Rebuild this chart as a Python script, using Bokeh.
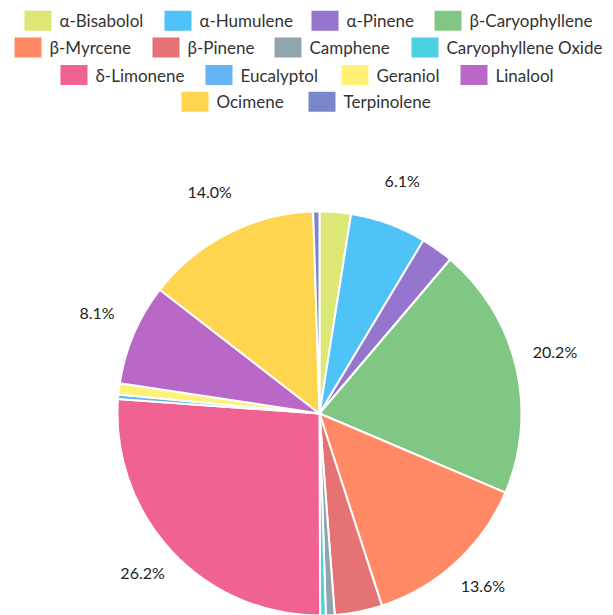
import math
from bokeh.plotting import figure
from bokeh.models import Range1d, ColumnDataSource
from bokeh.core.properties import value
from bokeh.embed import file_html
from bokeh.resources import INLINE

# ---- data ----
names = ["α-Bisabolol", "α-Humulene", "α-Pinene", "β-Caryophyllene",
         "β-Myrcene", "β-Pinene", "Camphene", "Caryophyllene Oxide",
         "δ-Limonene", "Eucalyptol", "Geraniol", "Linalool",
         "Ocimene", "Terpinolene"]
values = [2.5, 6.1, 2.6, 20.2, 13.6, 3.8, 0.7, 0.45,
          26.2, 0.35, 0.9, 8.1, 14.0, 0.5]
colors = ["#dce775", "#4fc3f7", "#9575cd", "#81c784",
          "#ff8a65", "#e57373", "#90a4ae", "#4dd0e1",
          "#f06292", "#64b5f6", "#fff176", "#ba68c8",
          "#ffd54f", "#7986cb"]

# ---- layout constants ----
W, H = 613, 615
CX, CY = 319, 615 - 413
R = 202
LABEL_R = 242
FONT = "Lato"

# legend rows: (indices, box left x)
legend_rows = [
    ([0, 1, 2, 3], [24, 164, 311, 434]),
    ([4, 5, 6, 7], [14, 152, 274, 411]),
    ([8, 9, 10, 11], [60, 205, 341, 460]),
    ([12, 13], [181, 308]),
]
row_y = [20.3, 47, 74.5, 101.3]
BOX_W, BOX_H = 27, 20

p = figure(width=W, height=H, output_backend="svg", toolbar_location=None,
           x_range=Range1d(0, W), y_range=Range1d(0, H),
           min_border=0, border_fill_color="white", background_fill_color="white")
p.axis.visible = False
p.grid.visible = False
p.outline_line_color = None

total = sum(values)
starts, ends = [], []
cum = 0.0
for v in values:
    starts.append(math.pi / 2 - 2 * math.pi * cum / total)
    cum += v
    ends.append(math.pi / 2 - 2 * math.pi * cum / total)

src = ColumnDataSource(dict(start=starts, end=ends, color=colors, name=names))
p.wedge(x=CX, y=CY, radius=R, start_angle="start", end_angle="end",
        direction="clock", fill_color="color", line_color="white",
        line_width=2, source=src)

# percentage labels for larger slices
lx, ly, lt = [], [], []
cum = 0.0
for v in values:
    mid = (cum + v / 2) / total
    cum += v
    pct = 100 * v / total
    if pct >= 5:
        a = math.pi / 2 - 2 * math.pi * mid
        lx.append(CX + LABEL_R * math.cos(a))
        ly.append(CY + LABEL_R * math.sin(a))
        lt.append(f"{pct:.1f}%")
p.text(x=lx, y=ly, text=lt, text_font=value(FONT), text_font_size="16px",
       text_color="#222222", text_align="center", text_baseline="middle",
       y_offset=-6)

# legend
bx, by, bc, tx, ty, tt = [], [], [], [], [], []
for (idxs, xs), yy in zip(legend_rows, row_y):
    for i, x0 in zip(idxs, xs):
        bx.append(x0 + BOX_W / 2)
        by.append(H - yy)
        bc.append(colors[i])
        tx.append(x0 + BOX_W + 8)
        ty.append(H - yy)
        tt.append(names[i])
p.rect(x=bx, y=by, width=BOX_W, height=BOX_H, fill_color=bc, line_color=None)
p.text(x=tx, y=ty, text=tt, text_font=value(FONT), text_font_size="17px",
       text_color="#333333", text_align="left", text_baseline="middle")

open("out.html", "w").write(file_html(p, INLINE))
